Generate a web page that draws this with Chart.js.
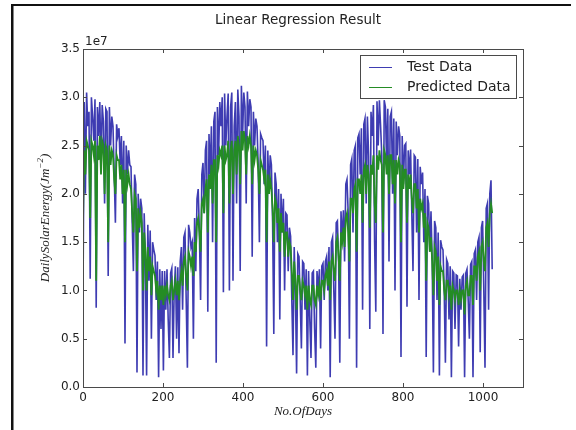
<!DOCTYPE html>
<html>
<head>
<meta charset="utf-8">
<title>Linear Regression Result</title>
<script src="https://cdn.jsdelivr.net/npm/chart.js@4.4.0/dist/chart.umd.min.js"></script>
<style>
  html, body { margin: 0; padding: 0; background: #fff; }
  #wrap { width: 576px; height: 430px; }
</style>
</head>
<body>
<div id="wrap"><canvas id="chart" width="576" height="430"></canvas></div>
<script>
// ─── DATA (daily solar energy, in units of 1e7 J m^-2, one sample every 3 days) ───
const STEP = 3;

const testData = [
  0.92, 2.95, 2.0, 3.05, 2.7, 2.85, 1.12, 3.0, 2.8, 2.55,
  2.98, 0.82, 2.9, 2.6, 2.95, 2.3, 2.92, 2.75, 1.9, 2.88,
  2.85, 1.15, 2.9, 2.5, 2.8, 2.7, 2.2, 1.7, 2.72, 2.6,
  2.68, 2.3, 2.6, 1.9, 2.55, 0.45, 2.5, 2.2, 2.45, 2.3,
  2.28, 1.7, 1.2, 2.2, 2.1, 0.15, 2.0, 1.6, 1.95, 1.85,
  0.12, 1.8, 1.3, 0.12, 1.68, 1.1, 1.62, 0.5, 1.5, 1.42,
  1.36, 0.9, 1.3, 0.1, 1.22, 0.6, 1.2, 0.17, 1.2, 0.8,
  1.22, 0.7, 0.3, 1.18, 1.23, 0.3, 1.0, 1.25, 0.5, 1.24,
  0.35, 1.3, 1.45, 0.8, 1.55, 1.6, 0.9, 0.2, 1.68, 1.6,
  1.45, 1.5, 0.5, 1.75, 1.2, 1.95, 2.05, 1.6, 0.9, 2.2,
  2.32, 1.8, 2.45, 2.55, 0.78, 2.62, 2.2, 2.7, 1.5, 2.75,
  2.85, 0.25, 2.9, 2.4, 2.95, 2.7, 3.0, 0.98, 3.04, 2.5,
  2.8, 3.04, 1.0, 2.9, 3.05, 1.1, 2.7, 2.95, 1.9, 3.08,
  2.8, 1.2, 3.12, 2.6, 3.05, 2.9, 1.9, 3.06, 2.7, 2.98,
  2.9, 1.35, 2.85, 2.5, 2.78, 2.7, 2.3, 1.5, 2.62, 2.58,
  2.55, 2.1, 2.5, 0.42, 2.45, 2.0, 2.4, 2.3, 1.7, 0.55,
  2.22, 2.1, 1.5, 2.05, 0.7, 2.0, 1.6, 1.95, 1.0, 1.8,
  1.78, 1.2, 1.65, 1.56, 0.9, 0.33, 1.45, 1.0, 0.14, 1.38,
  1.35, 0.9, 0.4, 1.3, 1.28, 0.8, 1.22, 0.12, 1.2, 0.7,
  0.3, 1.18, 1.2, 0.6, 0.2, 1.2, 1.0, 1.22, 0.4, 1.25,
  1.28, 0.9, 1.3, 1.35, 1.0, 1.45, 0.1, 1.5, 1.55, 1.0,
  0.5, 1.7, 1.72, 1.3, 0.25, 1.82, 1.5, 1.83, 1.3, 2.1,
  2.15, 1.8, 0.5, 2.3, 2.36, 1.6, 2.45, 2.5, 0.2, 2.58,
  2.62, 2.2, 2.68, 0.8, 2.72, 2.78, 1.9, 2.8, 2.4, 0.6,
  2.85, 2.6, 2.92, 1.5, 0.78, 2.96, 2.5, 2.97, 2.7, 2.4,
  0.55, 2.97, 2.9, 2.3, 2.88, 1.3, 2.8, 2.85, 2.0, 2.78,
  1.0, 2.75, 2.4, 2.7, 2.6, 0.31, 2.6, 2.1, 2.5, 2.52,
  0.83, 2.45, 2.2, 2.46, 1.8, 1.2, 2.4, 2.38, 1.6, 2.36,
  0.9, 2.28, 2.1, 2.22, 1.5, 2.05, 0.31, 1.98, 1.9, 1.4,
  1.82, 1.3, 0.15, 1.72, 1.65, 0.9, 1.6, 0.12, 1.52, 1.45,
  1.42, 1.0, 0.25, 1.32, 1.28, 0.7, 1.25, 0.1, 1.2, 1.18,
  0.6, 1.16, 1.15, 0.42, 1.12, 0.8, 1.14, 1.16, 0.1, 1.18,
  1.22, 0.9, 0.5, 1.27, 1.3, 0.1, 1.38, 1.42, 0.9, 1.5,
  1.55, 0.36, 1.65, 1.72, 1.0, 0.2, 1.85, 1.9, 0.8, 2.0,
  2.14, 1.22
];

const predictedData = [
  1.7, 2.45, 2.2, 2.55, 2.5, 2.45, 1.75, 2.55, 2.5, 2.4,
  2.55, 1.1, 2.5, 2.35, 2.6, 2.2, 2.55, 2.5, 2.0, 2.5,
  2.45, 1.5, 2.5, 2.3, 2.45, 2.4, 2.15, 2.0, 2.4, 2.35,
  2.35, 2.15, 2.3, 2.0, 2.25, 1.5, 2.25, 2.1, 2.2, 2.1,
  2.05, 1.8, 1.6, 2.0, 1.95, 1.2, 1.85, 1.65, 1.8, 1.7,
  1.0, 1.6, 1.4, 1.0, 1.45, 1.2, 1.35, 0.95, 1.25, 1.2,
  1.15, 1.0, 1.1, 0.8, 1.05, 0.9, 1.05, 0.85, 1.05, 0.95,
  1.05, 0.95, 0.9, 1.05, 1.1, 0.9, 1.0, 1.1, 0.95, 1.1,
  0.9, 1.1, 1.2, 1.05, 1.3, 1.35, 1.15, 1.0, 1.4, 1.35,
  1.25, 1.35, 1.15, 1.5, 1.4, 1.7, 1.75, 1.6, 1.4, 1.9,
  1.95, 1.8, 2.05, 2.15, 1.6, 2.2, 2.05, 2.3, 1.9, 2.35,
  2.35, 1.5, 2.4, 2.3, 2.45, 2.4, 2.5, 1.8, 2.5, 2.35,
  2.4, 2.55, 1.9, 2.45, 2.55, 2.0, 2.45, 2.55, 2.2, 2.6,
  2.5, 2.1, 2.65, 2.45, 2.65, 2.55, 2.2, 2.6, 2.5, 2.6,
  2.5, 2.1, 2.5, 2.35, 2.45, 2.4, 2.25, 2.0, 2.35, 2.3,
  2.25, 2.15, 2.25, 1.5, 2.2, 2.0, 2.15, 2.05, 1.85, 1.5,
  1.95, 1.9, 1.7, 1.85, 1.4, 1.8, 1.6, 1.7, 1.35, 1.6,
  1.6, 1.35, 1.5, 1.45, 1.2, 0.9, 1.3, 1.1, 0.8, 1.15,
  1.15, 1.0, 0.9, 1.1, 1.05, 0.95, 1.05, 0.8, 1.05, 0.9,
  0.85, 1.05, 1.05, 0.9, 0.85, 1.05, 0.95, 1.05, 0.9, 1.1,
  1.1, 1.0, 1.15, 1.2, 1.05, 1.3, 0.9, 1.3, 1.35, 1.2,
  1.1, 1.5, 1.55, 1.35, 1.1, 1.6, 1.5, 1.65, 1.45, 1.75,
  1.8, 1.6, 1.3, 1.95, 1.95, 1.8, 2.05, 2.1, 1.4, 2.15,
  2.15, 2.0, 2.2, 1.7, 2.25, 2.3, 2.0, 2.3, 2.2, 1.65,
  2.3, 2.2, 2.4, 1.9, 1.7, 2.4, 2.25, 2.45, 2.35, 2.3,
  1.6, 2.45, 2.4, 2.2, 2.4, 2.0, 2.4, 2.4, 2.1, 2.35,
  1.9, 2.35, 2.2, 2.35, 2.3, 1.5, 2.3, 2.05, 2.25, 2.25,
  1.7, 2.2, 2.05, 2.2, 1.95, 1.8, 2.1, 2.1, 1.85, 2.05,
  1.6, 1.95, 1.85, 1.9, 1.65, 1.8, 1.1, 1.7, 1.65, 1.4,
  1.55, 1.3, 0.95, 1.45, 1.4, 1.1, 1.35, 0.85, 1.25, 1.2,
  1.2, 1.0, 0.9, 1.1, 1.1, 0.95, 1.05, 0.8, 1.05, 1.0,
  0.9, 1.0, 1.0, 0.85, 1.0, 0.9, 1.0, 1.0, 0.75, 1.05,
  1.1, 0.95, 0.95, 1.15, 1.15, 0.85, 1.25, 1.25, 1.1, 1.35,
  1.4, 1.0, 1.45, 1.5, 1.3, 1.2, 1.65, 1.7, 1.45, 1.8,
  1.9, 1.8
];

const X_TICKS = [0, 200, 400, 600, 800, 1000];
const Y_TICKS = [0, 0.5, 1.0, 1.5, 2.0, 2.5, 3.0, 3.5];
const SERIES_LABELS = ['Test Data', 'Predicted Data'];

const days = testData.map((_, i) => i * STEP);

(function () {
    'use strict';

    const BLUE = '#3e3cb2';
    const GREEN = '#248c24';
    const FRAME = '#4a4a4a';

    // ─── matplotlib-ish decorations: box, inward ticks, title, labels, legend ───
    const decor = {
        id: 'decor',
        afterDraw(chart) {
            const { ctx, chartArea: a, scales } = chart;
            ctx.save();

            // outer screenshot edge
            ctx.fillStyle = '#111';
            ctx.fillRect(11, 4, 2.5, 426);
            ctx.fillRect(11, 4, 560, 2);

            // axes box
            ctx.strokeStyle = FRAME;
            ctx.lineWidth = 1;
            ctx.strokeRect(a.left + 0.5, a.top + 0.5, a.right - a.left, a.bottom - a.top);

            // inward ticks
            ctx.beginPath();
            X_TICKS.forEach(v => {
                const px = Math.round(scales.x.getPixelForValue(v)) + 0.5;
                ctx.moveTo(px, a.bottom); ctx.lineTo(px, a.bottom - 4);
                ctx.moveTo(px, a.top); ctx.lineTo(px, a.top + 4);
            });
            Y_TICKS.forEach(v => {
                const py = Math.round(scales.y.getPixelForValue(v)) + 0.5;
                ctx.moveTo(a.left, py); ctx.lineTo(a.left + 4, py);
                ctx.moveTo(a.right, py); ctx.lineTo(a.right - 4, py);
            });
            ctx.stroke();

            // title
            ctx.fillStyle = '#222';
            ctx.font = '13.5px "DejaVu Sans"';
            ctx.textAlign = 'center';
            ctx.textBaseline = 'middle';
            ctx.fillText('Linear Regression Result', 298, 20);

            // offset text
            ctx.font = '12px "DejaVu Sans"';
            ctx.textAlign = 'left';
            ctx.textBaseline = 'alphabetic';
            ctx.fillText('1e7', a.left + 2, a.top - 4);

            // x label
            ctx.font = 'italic 13px "Liberation Serif"';
            ctx.textAlign = 'center';
            ctx.textBaseline = 'middle';
            ctx.fillText('No.OfDays', (a.left + a.right) / 2, 412);

            // y label with superscript
            ctx.translate(46, 218);
            ctx.rotate(-Math.PI / 2);
            const main = 'DailySolarEnergy(Jm', sup = '\u22122', tail = ')';
            ctx.font = 'italic 13px "Liberation Serif"';
            const w1 = ctx.measureText(main).width, w3 = ctx.measureText(tail).width;
            ctx.font = 'italic 9px "Liberation Serif"';
            const w2 = ctx.measureText(sup).width;
            const x0 = -(w1 + w2 + w3) / 2;
            ctx.textAlign = 'left';
            ctx.font = 'italic 13px "Liberation Serif"';
            ctx.fillText(main, x0, 0);
            ctx.font = 'italic 9px "Liberation Serif"';
            ctx.fillText(sup, x0 + w1, -5);
            ctx.font = 'italic 13px "Liberation Serif"';
            ctx.fillText(tail, x0 + w1 + w2, 0);
            ctx.setTransform(1, 0, 0, 1, 0, 0);

            // legend
            const lx = 360, ly = 55, lw = 156, lh = 43;
            ctx.fillStyle = '#fff';
            ctx.fillRect(lx, ly, lw, lh);
            ctx.strokeStyle = FRAME;
            ctx.strokeRect(lx + 0.5, ly + 0.5, lw, lh);
            ctx.font = '14px "DejaVu Sans"';
            ctx.textAlign = 'left';
            ctx.textBaseline = 'middle';
            chart.data.datasets.forEach((ds, i) => {
                const y = ly + 12 + i * 20;
                ctx.strokeStyle = ds.borderColor;
                ctx.lineWidth = 1;
                ctx.beginPath();
                ctx.moveTo(lx + 9, y + 0.5); ctx.lineTo(lx + 32, y + 0.5);
                ctx.stroke();
                ctx.fillStyle = '#222';
                ctx.fillText(ds.label, lx + 47, y);
            });

            ctx.restore();
        }
    };

    new Chart(document.getElementById('chart'), {
        type: 'line',
        data: {
            datasets: [
                {
                    label: SERIES_LABELS[0],
                    data: days.map((d, i) => ({ x: d, y: testData[i] })),
                    borderColor: BLUE, borderWidth: 1.6, pointRadius: 0, tension: 0, order: 2
                },
                {
                    label: SERIES_LABELS[1],
                    data: days.map((d, i) => ({ x: d, y: predictedData[i] })),
                    borderColor: GREEN, borderWidth: 1.8, pointRadius: 0, tension: 0, order: 1
                }
            ]
        },
        options: {
            responsive: false,
            animation: false,
            layout: { padding: { top: 49, right: 53, left: 0, bottom: 0 } },
            plugins: { legend: { display: false }, tooltip: { enabled: false }, title: { display: false } },
            scales: {
                x: {
                    type: 'linear', min: 0, max: 1100,
                    grid: { display: false, drawTicks: false }, border: { display: false },
                    afterBuildTicks: s => { s.ticks = X_TICKS.map(v => ({ value: v })); },
                    afterFit: s => { s.height = 43; },
                    ticks: { color: '#222', padding: 4, maxRotation: 0, font: { family: 'DejaVu Sans', size: 12 }, callback: v => String(v) }
                },
                y: {
                    min: 0, max: 3.5,
                    grid: { display: false, drawTicks: false }, border: { display: false },
                    afterBuildTicks: s => { s.ticks = Y_TICKS.map(v => ({ value: v })); },
                    afterFit: s => { s.width = 83; },
                    ticks: { color: '#222', padding: 3, font: { family: 'DejaVu Sans', size: 12 }, callback: v => v.toFixed(1) }
                }
            }
        },
        plugins: [decor]
    });
})();
</script>
</body>
</html>
